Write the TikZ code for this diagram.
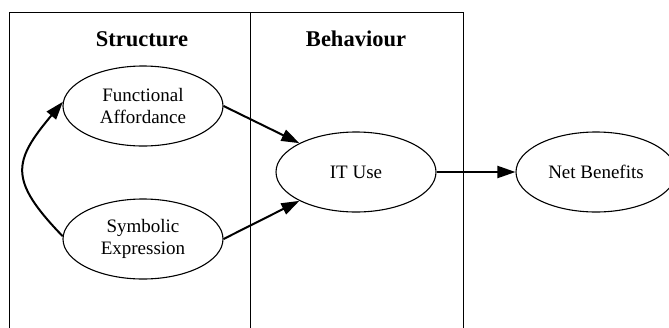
\documentclass[tikz,border=0pt]{standalone}
\usepackage{fontspec}
\setmainfont{Liberation Serif}
\usetikzlibrary{shapes.geometric,arrows.meta}
\begin{document}
\begin{tikzpicture}[x=1pt,y=1pt,
  oval/.style={ellipse,draw,line width=1.1pt,minimum width=160pt,minimum height=80pt,
    inner sep=0pt,align=center,font=\fontsize{19}{22}\selectfont},
  title/.style={font=\fontsize{22.5}{26}\selectfont\bfseries,anchor=base},
  link/.style={line width=2pt,-{Triangle[length=18pt,width=12pt]}},
  frame/.style={line width=1pt}]
\clip (0,0) rectangle (669,-327);

% swimlane frame (open at the bottom)
\draw[frame] (9,-335) -- (9,-12.5) -- (463,-12.5) -- (463,-335);
\draw[frame] (250,-12.5) -- (250,-335);

% lane titles
\node[title] (tStruct) at (142,-46.7) {Structure};
\node[title] (tBehav) at (356,-46.7) {Behaviour};

% constructs
\node[oval] (fa) at (143,-106) {Functional\\Affordance};
\node[oval] (se) at (143,-239) {Symbolic\\Expression};
\node[oval] (it) at (356,-172) {IT Use};
\node[oval] (nb) at (596,-172) {Net Benefits};

% relations
\draw[link] (fa.east) -- (it.153);
\draw[link] (se.east) -- (it.207);
\draw[link] (it.east) -- (nb.west);
\draw[link] (se.178) .. controls +(134:78) and +(230:78) .. (fa.177);
\end{tikzpicture}
\end{document}
